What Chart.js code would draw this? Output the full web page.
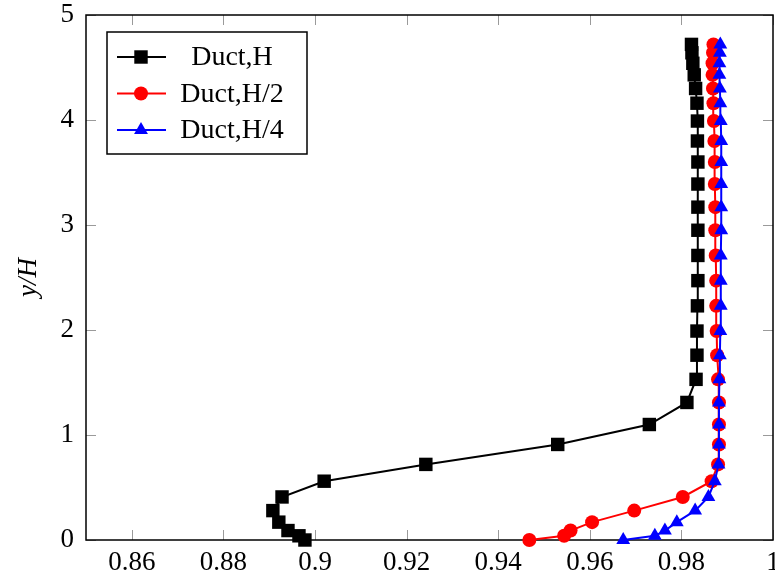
<!DOCTYPE html>
<html>
<head>
<meta charset="utf-8">
<script src="https://cdn.jsdelivr.net/npm/chart.js@4"></script>
<style>
  html, body { margin: 0; padding: 0; background: #fff; }
  #wrap { width: 775px; height: 581px; }
</style>
</head>
<body>
<div id="wrap"><canvas id="profileChart" width="775" height="581"></canvas></div>
<script>
// y/H stations (shared by the three profiles)
const heights = [0, 0.04, 0.09, 0.17, 0.28, 0.41, 0.56, 0.72, 0.91, 1.1, 1.31, 1.53, 1.76, 1.99,
    2.23, 2.47, 2.71, 2.95, 3.17, 3.39, 3.6, 3.8, 3.99, 4.16, 4.3, 4.43, 4.54, 4.64, 4.72];

// profile values
const ductH = [0.8978, 0.8965, 0.8941, 0.8921, 0.8908, 0.8928, 0.902, 0.9242, 0.953, 0.973, 0.9812, 0.9832, 0.9834, 0.9834,
    0.9835, 0.9836, 0.9836, 0.9836, 0.9836, 0.9836, 0.9836, 0.9835, 0.9835, 0.9834, 0.9831, 0.9828, 0.9825, 0.9823, 0.9822];
const ductH2 = [0.9468, 0.9544, 0.9558, 0.9605, 0.9697, 0.9803, 0.9866, 0.988, 0.9882, 0.9882, 0.9882, 0.988, 0.9878, 0.9877,
    0.9876, 0.9876, 0.9875, 0.9874, 0.9874, 0.9873, 0.9873, 0.9872, 0.9871, 0.987, 0.9869, 0.9868, 0.9868, 0.9869, 0.987];
const ductH4 = [0.9673, 0.9742, 0.9764, 0.979, 0.983, 0.9859, 0.9873, 0.9881, 0.9882, 0.9882, 0.9882, 0.9883, 0.9884, 0.9885,
    0.9886, 0.9886, 0.9886, 0.9887, 0.9887, 0.9887, 0.9887, 0.9887, 0.9886, 0.9885, 0.9884, 0.9883, 0.9883, 0.9884, 0.9885];

const seriesNames = ['Duct,H', 'Duct,H/2', 'Duct,H/4'];
const xTicks = [0.86, 0.88, 0.9, 0.92, 0.94, 0.96, 0.98, 1];
const yTicks = [0, 1, 2, 3, 4, 5];

const serif = "'Liberation Serif', 'Times New Roman', serif";

function toPoints(xs) {
    return xs.map((x, i) => ({ x: x, y: heights[i] }));
}

// frame + inward tick marks, drawn under the markers
const framePlugin = {
    id: 'frame',
    beforeDatasetsDraw(chart) {
        const { ctx, chartArea: a, scales } = chart;
        ctx.save();
        ctx.strokeStyle = '#9a9a9a';
        ctx.lineWidth = 1;
        ctx.beginPath();
        xTicks.forEach(v => {
            const px = Math.round(scales.x.getPixelForValue(v)) + 0.5;
            ctx.moveTo(px, a.bottom); ctx.lineTo(px, a.bottom - 10);
            ctx.moveTo(px, a.top); ctx.lineTo(px, a.top + 10);
        });
        yTicks.forEach(v => {
            const py = Math.round(scales.y.getPixelForValue(v)) + 0.5;
            ctx.moveTo(a.left, py); ctx.lineTo(a.left + 10, py);
            ctx.moveTo(a.right, py); ctx.lineTo(a.right - 10, py);
        });
        ctx.stroke();
        ctx.strokeStyle = '#000';
        ctx.lineWidth = 1.5;
        ctx.strokeRect(a.left, a.top, a.right - a.left, a.bottom - a.top);
        ctx.restore();
    }
};

// boxed legend in the upper left corner, like the pgfplots one
const boxLegend = {
    id: 'boxLegend',
    afterDraw(chart) {
        const { ctx, chartArea: a } = chart;
        const left = a.left + 21, top = a.top + 17, w = 200, h = 122;
        ctx.save();
        ctx.fillStyle = '#fff';
        ctx.fillRect(left, top, w, h);
        ctx.strokeStyle = '#000';
        ctx.lineWidth = 1.5;
        ctx.strokeRect(left, top, w, h);
        ctx.font = '28px ' + serif;
        ctx.textAlign = 'center';
        ctx.textBaseline = 'middle';
        chart.data.datasets.forEach((ds, i) => {
            const cy = top + 25 + i * 36.5;
            ctx.strokeStyle = ds.borderColor;
            ctx.fillStyle = ds.backgroundColor;
            ctx.lineWidth = ds.borderWidth;
            ctx.beginPath();
            ctx.moveTo(left + 10, cy);
            ctx.lineTo(left + 59, cy);
            ctx.stroke();
            Chart.helpers.drawPoint(ctx, { pointStyle: ds.pointStyle, radius: ds.pointRadius, borderWidth: 0, rotation: 0 }, left + 34, cy);
            ctx.fillStyle = '#000';
            ctx.fillText(ds.label, left + 125, cy + 1);
        });
        ctx.restore();
    }
};

const profileData = {
    datasets: [{
        label: seriesNames[0],
        data: toPoints(ductH),
        borderColor: '#000',
        backgroundColor: '#000',
        borderWidth: 2,
        pointStyle: 'rect',
        pointRadius: 9.5,
        pointBorderWidth: 0,
        order: 3
    }, {
        label: seriesNames[1],
        data: toPoints(ductH2),
        borderColor: '#ff0000',
        backgroundColor: '#ff0000',
        borderWidth: 2,
        pointStyle: 'circle',
        pointRadius: 7,
        pointBorderWidth: 0,
        order: 2
    }, {
        label: seriesNames[2],
        data: toPoints(ductH4),
        borderColor: '#0000ff',
        backgroundColor: '#0000ff',
        borderWidth: 2,
        pointStyle: 'triangle',
        pointRadius: 8,
        pointBorderWidth: 0,
        order: 1
    }]
};

const profileConfig = {
    type: 'scatter',
    data: profileData,
    options: {
        responsive: false,
        animation: false,
        showLine: true,
        clip: false,
        layout: { autoPadding: false, padding: { top: 15, right: 2, left: 0, bottom: 0 } },
        scales: {
            x: {
                type: 'linear',
                min: 0.85,
                max: 1,
                afterBuildTicks(scale) { scale.ticks = xTicks.map(v => ({ value: v })); },
                afterFit(scale) { scale.height = 41; scale.paddingLeft = 0; scale.paddingRight = 0; },
                grid: { display: false, drawTicks: false },
                border: { display: false },
                ticks: {
                    padding: 7,
                    color: '#000',
                    font: { family: serif, size: 27 },
                    callback: v => String(v)
                }
            },
            y: {
                type: 'linear',
                min: 0,
                max: 5,
                afterBuildTicks(scale) { scale.ticks = yTicks.map(v => ({ value: v })); },
                afterFit(scale) { scale.width = 86; scale.paddingTop = 0; scale.paddingBottom = 0; },
                grid: { display: false, drawTicks: false },
                border: { display: false },
                ticks: {
                    padding: 12,
                    color: '#000',
                    font: { family: serif, size: 27 },
                    callback: v => String(v)
                },
                title: {
                    display: true,
                    text: 'y/H',
                    color: '#000',
                    padding: { top: 13, bottom: 0 },
                    font: { family: serif, size: 27, style: 'italic' }
                }
            }
        },
        plugins: {
            legend: { display: false },
            tooltip: { enabled: false }
        }
    },
    plugins: [framePlugin, boxLegend]
};

new Chart(document.getElementById('profileChart'), profileConfig);
</script>
</body>
</html>
